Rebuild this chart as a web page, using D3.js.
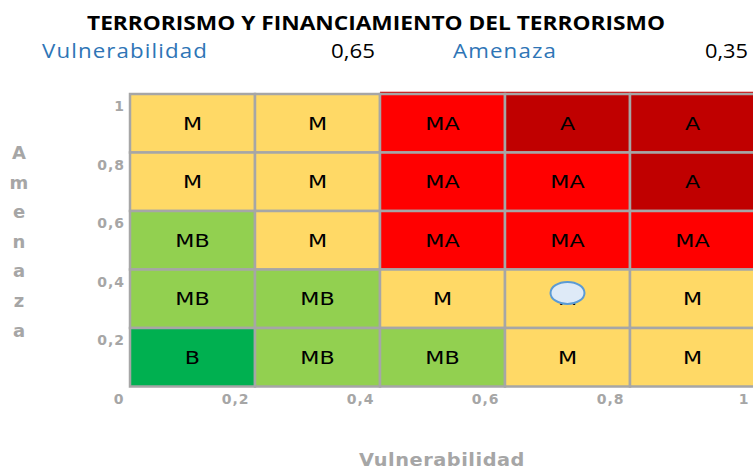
<!DOCTYPE html>
<html>
<head>
<meta charset="utf-8">
<script src="https://cdn.jsdelivr.net/npm/d3@7"></script>
<style>
  body { margin: 0; background: #fff; }
  svg { display: block; }
</style>
</head>
<body>
<svg id="chart"></svg>
<script>
// Risk matrix data
const vulnTicks = [0, 0.2, 0.4, 0.6, 0.8, 1];
const amenTicks = [0.2, 0.4, 0.6, 0.8, 1];
const colStarts = [0, 0.2, 0.4, 0.6, 0.8];
const rowStarts = [0.8, 0.6, 0.4, 0.2, 0]; // top to bottom
const riskRows = [
    ["M", "M", "MA", "A", "A"],
    ["M", "M", "MA", "MA", "A"],
    ["MB", "M", "MA", "MA", "MA"],
    ["MB", "MB", "M", "M", "M"],
    ["B", "MB", "MB", "M", "M"]
];
const levelColors = { B: "#00B050", MB: "#92D050", M: "#FFD966", MA: "#FF0000", A: "#C00000" };
const headerLabels = ["Vulnerabilidad", "Amenaza"];
const headerValues = ["0,65", "0,35"];
// marker position as drawn in the picture
const markerVuln = 0.70, markerAmen = 0.32;

const svg_width = 753, svg_height = 470;
const svg = d3.select("#chart")
    .attr("width", svg_width)
    .attr("height", svg_height);

const x = d3.scaleLinear().domain([0, 1]).range([130, 755]);
const y = d3.scaleLinear().domain([0, 1]).range([386.5, 94]);
const fmt = d => d3.format(".1~f")(d).replace(".", ",");

// widen text horizontally (reference font is wider than what we have)
function stretch(sel, k) {
    sel.each(function() {
        const w = this.getComputedTextLength();
        d3.select(this)
            .attr("textLength", w * k)
            .attr("lengthAdjust", "spacingAndGlyphs");
    });
}

// title
svg.append("text")
    .attr("x", 87)
    .attr("y", 30)
    .attr("textLength", 578)
    .attr("lengthAdjust", "spacingAndGlyphs")
    .attr("font-family", "'Open Sans', sans-serif")
    .attr("font-weight", "bold")
    .attr("font-size", 19)
    .attr("fill", "#000")
    .text("TERRORISMO Y FINANCIAMIENTO DEL TERRORISMO");

// header row
const headerX = [[42, 331], [453, 705]];
const headerW = [[166, 44], [104, 43]];
headerLabels.forEach((lab, i) => {
    svg.append("text")
        .attr("x", headerX[i][0])
        .attr("y", 58)
        .attr("textLength", headerW[i][0])
        .attr("lengthAdjust", "spacingAndGlyphs")
        .attr("font-family", "'Open Sans', sans-serif")
        .attr("font-size", 20)
        .attr("letter-spacing", 1)
        .attr("fill", "#2E75B6")
        .text(lab);
    svg.append("text")
        .attr("x", headerX[i][1])
        .attr("y", 58)
        .attr("textLength", headerW[i][1])
        .attr("lengthAdjust", "spacingAndGlyphs")
        .attr("font-family", "'Open Sans', sans-serif")
        .attr("font-size", 20)
        .attr("fill", "#000")
        .text(headerValues[i]);
});

// top accent line
svg.append("line")
    .attr("x1", x(0.4)).attr("x2", svg_width)
    .attr("y1", y(1) - 1.5).attr("y2", y(1) - 1.5)
    .attr("stroke", "#D00000")
    .attr("stroke-width", 1.5);

// cells
const cells = [];
riskRows.forEach((row, r) => row.forEach((lvl, c) => {
    cells.push({ x0: colStarts[c], y0: rowStarts[r], lvl });
}));

const g = svg.append("g");
g.selectAll("rect")
    .data(cells)
    .enter()
    .append("rect")
    .attr("x", d => x(d.x0))
    .attr("y", d => y(d.y0 + 0.2))
    .attr("width", d => x(d.x0 + 0.2) - x(d.x0))
    .attr("height", d => y(d.y0) - y(d.y0 + 0.2))
    .attr("fill", d => levelColors[d.lvl])
    .attr("stroke", "#A6A6A6")
    .attr("stroke-width", 2.5);

g.selectAll("text")
    .data(cells)
    .enter()
    .append("text")
    .attr("x", d => x(d.x0 + 0.1))
    .attr("y", d => y(d.y0 + 0.1))
    .attr("dy", "0.36em")
    .attr("text-anchor", "middle")
    .attr("font-family", "'DejaVu Sans', sans-serif")
    .attr("font-size", 18.5)
    .attr("fill", "#000")
    .text(d => d.lvl)
    .call(stretch, 1.2);

// marker
svg.append("ellipse")
    .attr("cx", x(markerVuln))
    .attr("cy", y(markerAmen))
    .attr("rx", 17)
    .attr("ry", 11)
    .attr("fill", "#DEEAF7")
    .attr("stroke", "#5B9BD5")
    .attr("stroke-width", 2);

// axes
const xAxis = svg.append("g")
    .attr("transform", `translate(0,${y(0)})`)
    .call(d3.axisBottom(x).tickValues(vulnTicks).tickSize(0).tickFormat(fmt));
xAxis.select(".domain").remove();
xAxis.selectAll("text")
    .attr("text-anchor", "end")
    .attr("dx", -6)
    .attr("y", 8)
    .attr("dy", "0.71em")
    .attr("font-family", "'DejaVu Sans', sans-serif")
    .attr("font-weight", "bold")
    .attr("font-size", 14)
    .attr("letter-spacing", 1)
    .attr("fill", "#A6A6A6");

const yAxis = svg.append("g")
    .attr("transform", `translate(125,0)`)
    .call(d3.axisLeft(y).tickValues(amenTicks).tickSize(0).tickFormat(fmt));
yAxis.select(".domain").remove();
yAxis.selectAll("text")
    .attr("x", 0)
    .attr("dy", "1.2em")
    .attr("font-family", "'DejaVu Sans', sans-serif")
    .attr("font-weight", "bold")
    .attr("font-size", 14)
    .attr("letter-spacing", 1)
    .attr("fill", "#A6A6A6");

// axis titles
svg.append("text")
    .attr("x", 442)
    .attr("y", 466)
    .attr("text-anchor", "middle")
    .attr("font-family", "'DejaVu Sans', sans-serif")
    .attr("font-weight", "bold")
    .attr("font-size", 18)
    .attr("letter-spacing", 0.5)
    .attr("textLength", 166)
    .attr("lengthAdjust", "spacingAndGlyphs")
    .attr("fill", "#A6A6A6")
    .text("Vulnerabilidad");

svg.append("text")
    .attr("font-family", "'DejaVu Sans', sans-serif")
    .attr("font-weight", "bold")
    .attr("font-size", 18)
    .attr("fill", "#A6A6A6")
    .attr("text-anchor", "middle")
    .selectAll("tspan")
    .data("Amenaza".split(""))
    .enter()
    .append("tspan")
    .attr("x", 19)
    .attr("y", (d, i) => 159 + i * 29.6)
    .text(d => d);
</script>
</body>
</html>
